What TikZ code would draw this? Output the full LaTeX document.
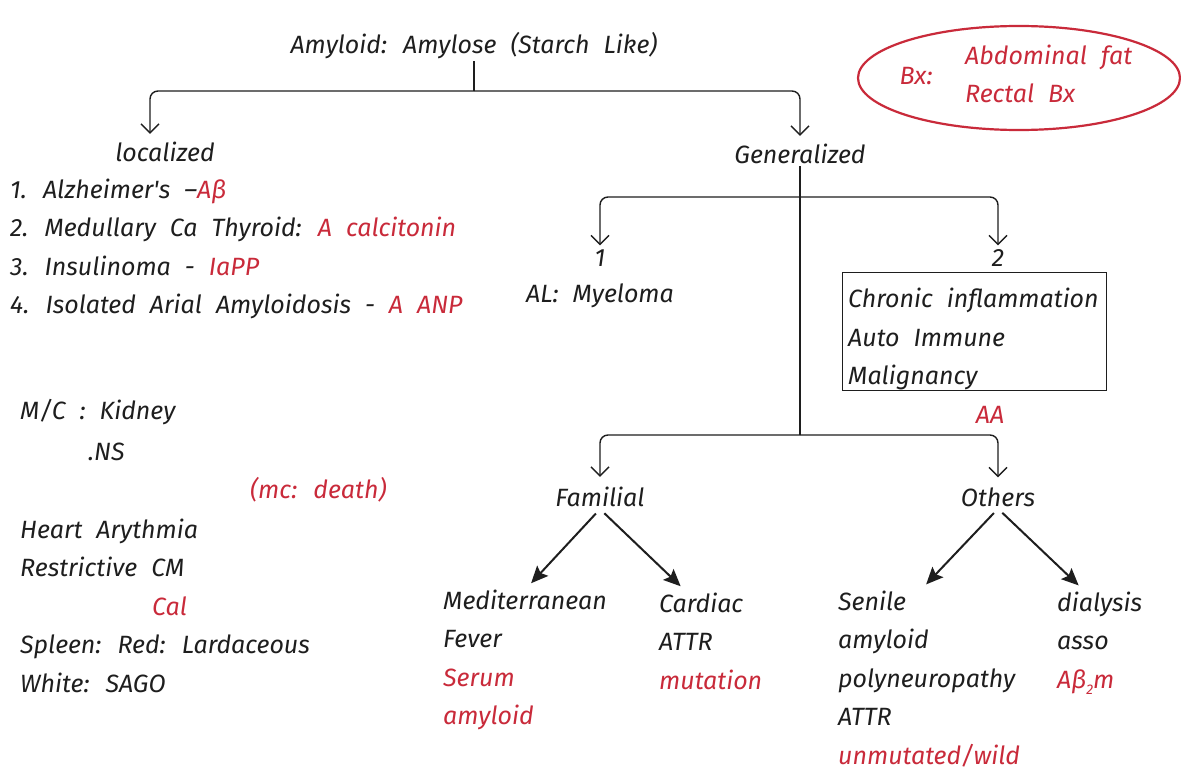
\documentclass[tikz,border=0pt]{standalone}
\usepackage{fontspec}
\setmainfont{Fira Sans}
\usetikzlibrary{arrows.meta,shapes.geometric}
\definecolor{ink}{HTML}{1E1E1E}
\definecolor{redink}{HTML}{C92A3A}
\newcommand\mywidesp{\fontsize{25}{38.5}\selectfont\itshape\setlength{\spaceskip}{14pt plus 2pt minus 1pt}}
\tikzset{
 txt/.style={font=\mywidesp, text=ink, inner sep=2pt},
 rtxt/.style={txt, text=redink},
 conn/.style={draw=ink, line width=1.4pt, rounded corners=8pt, -{Straight Barb[length=9pt,width=18pt,line width=1.4pt]}},
 plainline/.style={draw=ink, line width=1.4pt},
 boldarrow/.style={draw=ink, line width=2pt, -{Stealth[length=17pt,width=15pt,inset=3pt]}},
}
\begin{document}
\begin{tikzpicture}[x=1pt,y=-1pt]
\useasboundingbox[fill=white] (0,0) rectangle (1181,776);

% top
\node[txt] (title) at (474,46) {Amyloid: Amylose (Starch Like)};
\coordinate (br) at (474,91);
\node[txt] (loc) at (165,152) {localized};
\node[txt] (gen) at (800,154) {Generalized};
\draw[plainline] (title.south) -- (br);
\draw[conn, shorten >=6pt] (br) -| ([xshift=-15pt]loc.north);
\draw[conn, shorten >=6pt] (br) -| (gen.north);

% localized list
\node[txt, anchor=west, align=left] (list) at (8,249) {1. Alzheimer\textquotesingle s --{\color{redink}Aβ}\\
2. Medullary Ca Thyroid: {\color{redink}A calcitonin}\\
3. Insulinoma - {\color{redink}IaPP}\\
4. Isolated Arial Amyloidosis - {\color{redink}A ANP}};

% biopsy ellipse
\node[ellipse, draw=redink, line width=2.2pt, minimum width=322pt, minimum height=104pt] (bx) at (1019,78) {};
\node[rtxt] (bxl) at (916,76) {Bx:};
\node[rtxt, anchor=west, align=left] (bxt) at (963,74) {Abdominal fat\\Rectal Bx};

% generalized
\coordinate (b1) at (800,197);
\coordinate (b2) at (800,435);
\node[txt] (one) at (600,258) {1};
\node[txt] (al) at (600,296) {AL: Myeloma};
\node[txt] (two) at (998,258) {2};
\node[draw=ink, line width=1.4pt, minimum width=264pt, minimum height=118pt, anchor=north west, inner sep=0pt] (box) at (842,272) {};
\node[txt, anchor=west, align=left] (boxtext) at (846,339) {Chronic inflammation\\Auto Immune\\Malignancy};
\node[rtxt] (aa) at (990,415) {AA};
\draw[plainline] (gen.south) -- (b2);
\draw[conn, shorten >=2pt] (b1) -| (one.north);
\draw[conn, shorten >=2pt] (b1) -| (two.north);

\node[txt] (fam) at (600,497) {Familial};
\node[txt] (oth) at (998,497) {Others};
\draw[conn, shorten >=8pt] (b2) -| (fam.north);
\draw[conn, shorten >=8pt] (b2) -| (oth.north);

\node[txt, anchor=west, align=left] (med) at (441,660) {Mediterranean\\Fever\\{\color{redink}Serum}\\{\color{redink}amyloid}};
\node[txt, anchor=west, align=left] (car) at (657,641) {Cardiac\\ATTR\\{\color{redink}mutation}};
\node[txt, anchor=west, align=left] (sen) at (836,679) {Senile\\amyloid\\polyneuropathy\\ATTR\\{\color{redink}unmutated/wild}};
\node[txt, anchor=west, align=left] (dia) at (1055,643) {dialysis\\asso\\{\color{redink}Aβ\raisebox{-6pt}{\fontsize{14}{14}\selectfont 2}m}};

\draw[boldarrow, shorten <=6pt, shorten >=6pt] (fam.south) -- ([xshift=86pt]med.north west);
\draw[boldarrow, shorten <=6pt, shorten >=6pt] (fam.south) -- ([xshift=28pt]car.north west);
\draw[boldarrow, shorten <=6pt, shorten >=6pt] (oth.south) -- ([xshift=86pt]sen.north west);
\draw[boldarrow, shorten <=6pt, shorten >=6pt] (oth.south) -- ([xshift=28pt]dia.north west);

% left notes
\node[txt, anchor=west] (mc) at (18,412) {M/C : Kidney};
\node[txt, anchor=west] (ns) at (86,452) {.NS};
\node[rtxt, anchor=west] (death) at (248,490) {(mc: death)};
\node[txt, anchor=west, align=left] (heart) at (18,548) {Heart Arythmia\\Restrictive CM};
\node[rtxt, anchor=west] (cal) at (150,606) {Cal};
\node[txt, anchor=west, align=left] (spl) at (18,664) {Spleen: Red: Lardaceous\\White: SAGO};
\end{tikzpicture}
\end{document}
